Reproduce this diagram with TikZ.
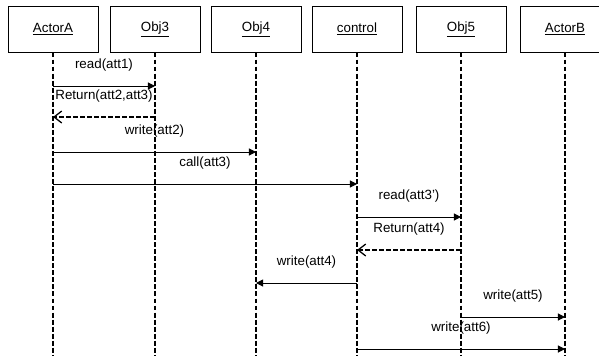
\documentclass[tikz,border=0pt]{standalone}
\usepackage{fontspec}
\setmainfont{Liberation Sans}
\usetikzlibrary{arrows.meta}

\begin{document}
\begin{tikzpicture} [x = 0.25mm, y = -0.25mm,
	object/.style = {draw, line width = 0.7pt, minimum width = 22.5mm, minimum height = 11.5mm, font = \fontsize{9.5}{11}\selectfont},
	lifeline/.style = {line width = 1.2pt, dash pattern = on 3.5pt off 1.5pt},
	call/.style = {line width = 0.7pt, -{Triangle[length = 5pt, width = 5pt]}},
	reply/.style = {line width = 0.9pt, dash pattern = on 3.5pt off 1.5pt, -{Straight Barb[length = 5.5pt, width = 8.5pt]}},
	msg/.style = {above = 7pt, midway, font = \fontsize{9.5}{11}\selectfont}]
	\useasboundingbox (0,0) rectangle (599,355);
	% objects
	\node [object] (actorA) at (53,29) {\underline{ActorA}};
	\node [object] (obj3) at (155,29) {\underline{Obj3}};
	\node [object] (obj4) at (256,29) {\underline{Obj4}};
	\node [object] (control) at (357,29) {\underline{control}};
	\node [object] (obj5) at (461,29) {\underline{Obj5}};
	\node [object] (actorB) at (565,29) {\underline{ActorB}};
	% lifelines
	\foreach \obj in {actorA, obj3, obj4, control, obj5, actorB}
		\draw [lifeline] (\obj.south) -- (\obj |- 0,360);
	% messages
	\draw [call] (actorA |- 0,86) -- (obj3 |- 0,86) node [msg] {read(att1)};
	\draw [reply] (obj3 |- 0,117) -- (actorA |- 0,117) node [msg] {Return(att2,att3)};
	\draw [call] (actorA |- 0,152) -- (obj4 |- 0,152) node [msg] {write(att2)};
	\draw [call] (actorA |- 0,184) -- (control |- 0,184) node [msg] {call(att3)};
	\draw [call] (control |- 0,217) -- (obj5 |- 0,217) node [msg] {read(att3')};
	\draw [reply] (obj5 |- 0,250) -- (control |- 0,250) node [msg] {Return(att4)};
	\draw [call] (control |- 0,283) -- (obj4 |- 0,283) node [msg] {write(att4)};
	\draw [call] (obj5 |- 0,317) -- (actorB |- 0,317) node [msg] {write(att5)};
	\draw [call] (control |- 0,349) -- (actorB |- 0,349) node [msg] {write(att6)};
\end{tikzpicture}
\end{document}
